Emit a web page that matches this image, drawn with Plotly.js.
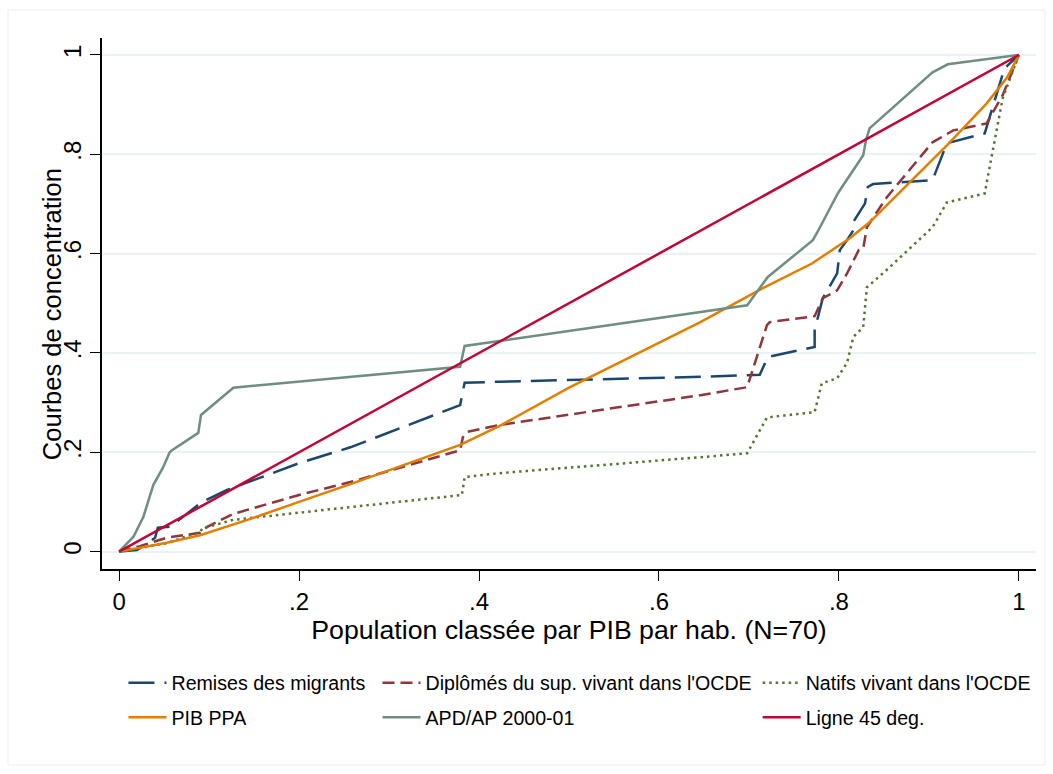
<!DOCTYPE html>
<html>
<head>
<meta charset="utf-8">
<script src="https://cdn.plot.ly/plotly-3.0.1.min.js"></script>
<style>
  body { margin: 0; background: #fff; }
  #chart { width: 1053px; height: 774px; }
</style>
</head>
<body>
<div id="chart"></div>
<script>
// concentration curves, values
var remX = [0, 0.02, 0.04, 0.043, 0.057, 0.092, 0.12, 0.2, 0.257, 0.379, 0.384, 0.423, 0.646, 0.712, 0.721, 0.773, 0.773, 0.777, 0.782, 0.798, 0.801, 0.809, 0.816, 0.816, 0.829, 0.832, 0.838, 0.904, 0.92, 0.962, 0.984, 1];
var remY = [0, 0.003, 0.028, 0.048, 0.05, 0.1, 0.124, 0.178, 0.21, 0.295, 0.34, 0.342, 0.352, 0.356, 0.392, 0.412, 0.446, 0.476, 0.51, 0.56, 0.607, 0.627, 0.647, 0.664, 0.701, 0.734, 0.74, 0.748, 0.822, 0.842, 0.973, 1];

var dipX = [0, 0.023, 0.053, 0.09, 0.098, 0.127, 0.2, 0.257, 0.379, 0.382, 0.387, 0.423, 0.646, 0.698, 0.72, 0.723, 0.773, 0.782, 0.798, 0.809, 0.822, 0.827, 0.831, 0.853, 0.904, 0.927, 0.964, 0.982, 1];
var dipY = [0, 0.011, 0.028, 0.038, 0.05, 0.076, 0.114, 0.14, 0.204, 0.23, 0.241, 0.255, 0.315, 0.331, 0.456, 0.462, 0.474, 0.51, 0.526, 0.56, 0.607, 0.61, 0.653, 0.713, 0.824, 0.848, 0.862, 0.919, 1];

var natX = [0, 0.053, 0.09, 0.093, 0.127, 0.2, 0.257, 0.381, 0.384, 0.423, 0.646, 0.698, 0.72, 0.773, 0.781, 0.798, 0.809, 0.816, 0.827, 0.831, 0.853, 0.904, 0.92, 0.962, 0.971, 0.982, 1];
var natY = [0, 0.017, 0.04, 0.047, 0.064, 0.078, 0.09, 0.114, 0.15, 0.158, 0.19, 0.198, 0.27, 0.281, 0.339, 0.349, 0.38, 0.432, 0.452, 0.532, 0.567, 0.653, 0.703, 0.721, 0.808, 0.913, 1];

var pibX = [0, 0.053, 0.09, 0.146, 0.2, 0.257, 0.379, 0.423, 0.5, 0.646, 0.716, 0.77, 0.812, 0.834, 0.92, 0.964, 0.987, 1];
var pibY = [0, 0.018, 0.033, 0.066, 0.1, 0.136, 0.215, 0.253, 0.33, 0.462, 0.531, 0.58, 0.631, 0.663, 0.818, 0.902, 0.955, 1];

var apdX = [0, 0.016, 0.027, 0.038, 0.049, 0.056, 0.058, 0.088, 0.091, 0.127, 0.379, 0.384, 0.698, 0.721, 0.771, 0.776, 0.799, 0.814, 0.827, 0.83, 0.834, 0.904, 0.921, 1];
var apdY = [0, 0.03, 0.07, 0.134, 0.17, 0.199, 0.203, 0.239, 0.275, 0.33, 0.372, 0.414, 0.496, 0.553, 0.627, 0.643, 0.722, 0.764, 0.798, 0.828, 0.852, 0.965, 0.981, 1];

var diagX = [0, 1];
var diagY = [0, 1];

var tickVals = [0, 0.2, 0.4, 0.6, 0.8, 1];
var tickText = ['0', '.2', '.4', '.6', '.8', '1'];

var font = 'Liberation Sans, Arial, sans-serif';

function line(x, y, name, color, dash, leg) {
  return {
    x: x, y: y, name: name, type: 'scatter', mode: 'lines',
    line: { color: color, width: 2.5, dash: dash },
    legend: leg, legendgroup: name
  };
}

var data = [
  line(remX, remY, 'Remises des migrants', '#1a476f', '26px,10px', 'legend'),
  line(dipX, dipY, "Diplômés du sup. vivant dans l'OCDE", '#90353b', '12px,6px', 'legend2'),
  line(natX, natY, "Natifs vivant dans l'OCDE", '#55752f', '2.5px,4px', 'legend3'),
  line(pibX, pibY, 'PIB PPA', '#e37e00', 'solid', 'legend'),
  line(apdX, apdY, 'APD/AP 2000-01', '#6e8e84', 'solid', 'legend2'),
  line(diagX, diagY, 'Ligne 45 deg.', '#c10534', 'solid', 'legend3')
];

var legBase = {
  orientation: 'v', yanchor: 'top', y: -0.178, xanchor: 'left',
  font: { family: font, size: 19.6, color: '#000' },
  itemwidth: 38, tracegroupgap: 6, bgcolor: 'rgba(0,0,0,0)'
};

var layout = {
  width: 1053, height: 774,
  margin: { l: 102, r: 17, t: 38, b: 205 },
  paper_bgcolor: '#fff', plot_bgcolor: '#fff',
  font: { family: font, color: '#000' },
  xaxis: {
    range: [-0.019, 1.019], tickvals: tickVals, ticktext: tickText,
    ticks: 'outside', ticklen: 10, tickcolor: '#000', tickwidth: 1,
    tickfont: { size: 24 }, showgrid: false, zeroline: false,
    showline: true, linecolor: '#000', linewidth: 1.5,
    title: { text: 'Population classée par PIB par hab. (N=70)', font: { size: 26.7 }, standoff: 0 }
  },
  yaxis: {
    range: [-0.035, 1.034], tickvals: tickVals, ticktext: tickText,
    ticks: 'outside', ticklen: 10, tickcolor: '#000', tickwidth: 1, tickangle: -90,
    tickfont: { size: 24 }, showgrid: true, gridcolor: '#eaf2f3', gridwidth: 2, zeroline: false,
    showline: true, linecolor: '#000', linewidth: 1.5
  },
  annotations: [{
    text: 'Courbes de concentration', textangle: -90, showarrow: false,
    xref: 'paper', yref: 'paper', x: -0.0535, y: 0.48,
    xanchor: 'center', yanchor: 'middle',
    font: { family: font, size: 25.5, color: '#000' }
  }],
  legend: Object.assign({}, legBase, { x: 0.023 }),
  legend2: Object.assign({}, legBase, { x: 0.295 }),
  legend3: Object.assign({}, legBase, { x: 0.702 }),
  shapes: [{
    type: 'rect', xref: 'paper', yref: 'paper',
    x0: -0.1006, x1: 1.0096, y0: -0.369, y1: 1.0527,
    line: { color: '#eeeeee', width: 1 }, layer: 'below'
  }]
};

Plotly.newPlot('chart', data, layout, { displayModeBar: false });
</script>
</body>
</html>
